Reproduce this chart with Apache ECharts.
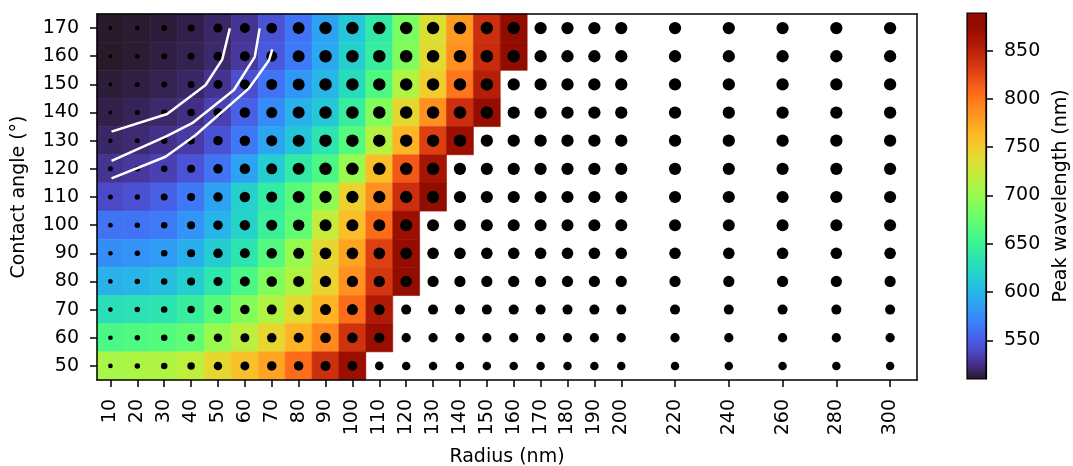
<!DOCTYPE html>
<html><head><meta charset="utf-8">
<script src="https://cdn.jsdelivr.net/npm/echarts@6/dist/echarts.min.js"></script>
<style>html,body{margin:0;padding:0;background:#fff}#c{width:1073px;height:466px}</style>
</head><body><div id="c"></div>
<script>
// ---------- data ----------
const radius = [10,20,30,40,50,60,70,80,90,100,110,120,130,140,150,160,170,180,190,200,220,240,260,280,300];
const angles = [170,160,150,140,130,120,110,100,90,80,70,60,50];
const xTicks = [10,20,30,40,50,60,70,80,90,100,110,120,130,140,150,160,170,180,190,200,220,240,260,280,300];
const yTicks = [50,60,70,80,90,100,110,120,130,140,150,160,170];
const cbTicks = [550,600,650,700,750,800,850];

// Peak wavelength (nm), one row per contact angle, starting at radius 10 (only computed cells)
const wl170 = [512,513,514,516,520,528,545,563,588,612,640,685,735,780,840,882];
const wl160 = [512,513,515,517,521,530,548,566,592,617,645,688,738,785,842,880];
const wl150 = [514,515,517,520,527,543,563,582,600,627,662,712,750,800,852];
const wl140 = [516,518,521,525,535,553,575,597,612,645,690,740,785,840,875];
const wl130 = [520,522,526,532,545,565,590,610,635,665,715,765,830,870];
const wl120 = [527,530,535,545,562,588,615,640,660,700,758,815,862];
const wl110 = [540,544,552,565,588,618,642,668,695,745,785,840,888];
const wl100 = [562,563,566,580,598,620,648,672,722,758,805,870];
const wl90  = [577,580,585,595,615,635,665,700,740,775,830,875];
const wl80  = [597,600,607,617,637,660,688,712,745,785,835,880];
const wl70  = [630,632,635,645,668,690,712,738,765,805,855];
const wl60  = [660,663,666,672,700,718,742,765,790,838,872];
const wl50  = [708,710,712,720,740,757,775,805,840,870];
const wavelength = [wl170,wl160,wl150,wl140,wl130,wl120,wl110,wl100,wl90,wl80,wl70,wl60,wl50];

// Marker metric (dot diameter), one row per contact angle, all 25 radii
const ds170 = [4,4.7,6,7,9,10,10.7,12,12.5,12.5,12.5,12.5,12.5,12.5,12.5,12.5,12.3,12.3,12.3,12.3,12.3,12.3,12.3,12.3,12.3];
const ds160 = [4,4.7,6,7,9,10,11,12,12.5,12.5,12.5,12.5,12.5,12.5,12.5,12.5,12.3,12.3,12.3,12.3,12.3,12.3,12.3,12.3,12.3];
const ds150 = [4,5,6,7,9,10,11,12,12.5,12.5,12.5,12.5,12.5,12.5,12.5,12.3,12.3,12.3,12.3,12.3,12.3,12.3,12.3,12.3,12.3];
const ds140 = [4,5,6,7.5,9,10.5,11,12,12.5,12.5,12.5,12.5,12.5,12.5,12.5,12.3,12.3,12.3,12.3,12.3,12.3,12.3,12.3,12.3,12.3];
const ds130 = [4.5,5,6.5,7.5,9.5,10.5,11,12,12.5,12.5,12.5,12.5,12.5,12.5,12.3,12.3,12.3,12.3,12.3,12.3,12.3,12.3,12.3,12.3,12.3];
const ds120 = [5,5.5,6.5,8,9.5,10.5,11,12,12.5,12.5,12.5,12.5,12.5,12.2,12.2,12.2,12.2,12.2,12.2,12.2,12.2,12.2,12.2,12.2,12.2];
const ds110 = [5,5.5,7,8,9.5,10.5,11,12,12.3,12.3,12.3,12.3,12.3,12.2,12.2,12.2,12.2,12.2,12.2,12.2,12.2,12.2,12.2,12.2,12.2];
const ds100 = [4.7,5.5,6.5,8,9.5,10.5,11,11.5,12,12,12,12,12,12,12,12,12,12,12,12,12,12,12,12,12];
const ds90  = [4.7,5.5,6.5,8,9.5,10,10.5,11,11.7,11.7,11.7,11.7,11.6,11.6,11.6,11.6,11.6,11.6,11.6,11.6,11.6,11.6,11.6,11.6,11.6];
const ds80  = [4.7,5.5,6.5,8,9,10,10.5,11,11.3,11.3,11.3,11.3,11.2,11.2,11.2,11.2,11.2,11.2,11.2,11.2,11.2,11.2,11.2,11.2,11.2];
const ds70  = [4.7,5.5,6.5,7.5,9,9.5,10,10.5,11,11,10.7,10,10,10,10,10,10,10,10,10,10,10,10,10,10];
const ds60  = [4.7,5.5,6.5,7.5,8.5,9,9.5,10,10.7,10.5,10.2,9.3,9.3,9.3,9.3,9.3,9.3,9.3,9.3,9.3,9.3,9.3,9.3,9.3,9.3];
const ds50  = [4.7,5.5,6.5,7.5,8.5,9,9.5,9.5,10,9.7,8.7,8.5,8.5,8.5,8.5,8.5,8.5,8.5,8.5,8.5,8.5,8.5,8.5,8.5,8.5];
const dotMetric = [ds170,ds160,ds150,ds140,ds130,ds120,ds110,ds100,ds90,ds80,ds70,ds60,ds50];

// White contour lines [radius, angle]
const contourA = [[10.4,133.2],[31.1,139.5],[45.4,149.8],[51.6,158.9],[54.4,169.9]];
const contourB = [[10.4,122.8],[31.1,131.7],[40.4,136.2],[55.9,148],[63.7,159.8],[65.5,169.9]];
const contourC = [[10.4,116.6],[30.5,124.3],[41.7,132],[61.5,148.6],[69,158.6],[70.2,162.4]];

const wlMin = 510, wlMax = 889;

// ---------- build ----------
function turbo(t){
  t = Math.max(0, Math.min(1, t));
  const r = 0.13572138 + t*(4.61539260 + t*(-42.66032258 + t*(132.13108234 + t*(-152.94239396 + t*59.28637943))));
  const g = 0.09140261 + t*(2.19418839 + t*(4.84296658 + t*(-14.18503333 + t*(4.27729857 + t*2.82956604))));
  const b = 0.10667330 + t*(12.64194608 + t*(-60.58204836 + t*(110.36276771 + t*(-89.90310912 + t*27.34824973))));
  const c = v => Math.round(255*Math.max(0, Math.min(1, v)));
  return 'rgb(' + c(r) + ',' + c(g) + ',' + c(b) + ')';
}
const N = 64;
const turboColors = [], turboStops = [];
for (let i = 0; i <= N; i++) { const t = i / N; turboColors.push(turbo(t)); turboStops.push({offset: t, color: turbo(t)}); }

const cells = [], dots = [];
angles.forEach((a, ri) => {
  wavelength[ri].forEach((w, ci) => cells.push([radius[ci], a, w]));
  dotMetric[ri].forEach((s, ci) => dots.push([radius[ci], a, s]));
});

const FONT = 'DejaVu Sans';
const FS = 19;
const TXT = {fontFamily: FONT, fontSize: FS, color: '#000'};
const chart = echarts.init(document.getElementById('c'), null, {renderer: 'canvas'});
chart.setOption({
  animation: false,
  backgroundColor: '#fff',
  grid: [
    {left: 97, top: 14, width: 820, height: 366, outerBoundsMode: 'none', containLabel: false},
    {left: 967, top: 13, width: 19, height: 366, outerBoundsMode: 'none', containLabel: false}
  ],
  xAxis: [
    {type: 'value', gridIndex: 0, min: 5, max: 310, position: 'bottom', z: 10,
     name: 'Radius (nm)', nameLocation: 'middle', nameGap: 68, nameTextStyle: TXT,
     axisLine: {show: true, onZero: false, lineStyle: {color: '#000', width: 1.5}},
     axisTick: {show: true, length: 7, lineStyle: {color: '#000', width: 1.5}, customValues: xTicks},
     axisLabel: Object.assign({rotate: 90, margin: 19, customValues: xTicks}, TXT),
     splitLine: {show: false}},
    {type: 'value', gridIndex: 0, min: 5, max: 310, position: 'top', z: 10,
     axisLine: {show: true, onZero: false, lineStyle: {color: '#000', width: 1.5}},
     axisTick: {show: false}, axisLabel: {show: false}, splitLine: {show: false}},
    {type: 'value', gridIndex: 1, min: 0, max: 1, show: false}
  ],
  yAxis: [
    {type: 'value', gridIndex: 0, min: 45, max: 175, position: 'left', z: 10,
     name: 'Contact angle (°)', nameLocation: 'middle', nameGap: 68, nameRotate: 90, nameTextStyle: TXT,
     axisLine: {show: true, onZero: false, lineStyle: {color: '#000', width: 1.5}},
     axisTick: {show: true, length: 7, lineStyle: {color: '#000', width: 1.5}, customValues: yTicks},
     axisLabel: Object.assign({margin: 18, customValues: yTicks}, TXT),
     splitLine: {show: false}},
    {type: 'value', gridIndex: 0, min: 45, max: 175, position: 'right', z: 10,
     axisLine: {show: true, onZero: false, lineStyle: {color: '#000', width: 1.5}},
     axisTick: {show: false}, axisLabel: {show: false}, splitLine: {show: false}},
    {type: 'value', gridIndex: 1, min: wlMin, max: wlMax, position: 'right', z: 10,
     name: 'Peak wavelength (nm)', nameLocation: 'middle', nameGap: 66, nameRotate: 90, nameTextStyle: TXT,
     axisLine: {show: true, onZero: false, lineStyle: {color: '#000', width: 1.2}},
     axisTick: {show: true, inside: false, length: 7, lineStyle: {color: '#000', width: 1.5}, customValues: cbTicks},
     axisLabel: Object.assign({margin: 18, customValues: cbTicks}, TXT),
     splitLine: {show: false}}
  ],
  visualMap: {
    type: 'continuous', show: false, min: wlMin, max: wlMax, dimension: 2, seriesIndex: 0,
    inRange: {color: turboColors}
  },
  series: [
    {type: 'custom', xAxisIndex: 0, yAxisIndex: 0, z: 1, data: cells, silent: true,
     renderItem: function (params, api) {
       const x = api.value(0), y = api.value(1);
       const p0 = api.coord([x - 5, y + 5]);
       const p1 = api.coord([x + 5, y - 5]);
       const col = api.visual('color');
       return {type: 'rect', shape: {x: p0[0], y: p0[1], width: p1[0] - p0[0], height: p1[1] - p0[1]},
               style: {fill: col, stroke: col, lineWidth: 0.6}};
     }},
    {type: 'scatter', xAxisIndex: 0, yAxisIndex: 0, z: 3, data: dots, silent: true,
     symbol: 'circle', symbolSize: function (v) { return v[2]; },
     itemStyle: {color: '#000', opacity: 1}},
    {type: 'line', xAxisIndex: 0, yAxisIndex: 0, z: 4, data: contourA, showSymbol: false, symbol: 'none', silent: true,
     lineStyle: {color: '#fff', width: 2.5}},
    {type: 'line', xAxisIndex: 0, yAxisIndex: 0, z: 4, data: contourB, showSymbol: false, symbol: 'none', silent: true,
     lineStyle: {color: '#fff', width: 2.5}},
    {type: 'line', xAxisIndex: 0, yAxisIndex: 0, z: 4, data: contourC, showSymbol: false, symbol: 'none', silent: true,
     lineStyle: {color: '#fff', width: 2.5}},
    {type: 'custom', xAxisIndex: 2, yAxisIndex: 2, z: 1, data: [[0, wlMin, wlMax]], silent: true,
     renderItem: function (params, api) {
       const p0 = api.coord([0, api.value(2)]);
       const p1 = api.coord([1, api.value(1)]);
       return {type: 'rect', shape: {x: p0[0], y: p0[1], width: p1[0] - p0[0], height: p1[1] - p0[1]},
               style: {fill: new echarts.graphic.LinearGradient(0, 1, 0, 0, turboStops), stroke: '#000', lineWidth: 1.2}};
     }}
  ]
});
</script>
</body></html>
